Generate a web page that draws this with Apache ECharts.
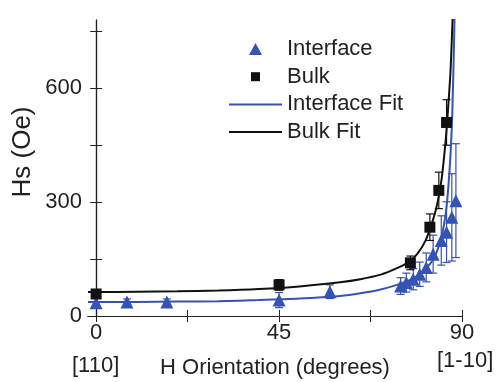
<!DOCTYPE html>
<html>
<head>
<meta charset="utf-8">
<script src="https://cdn.jsdelivr.net/npm/echarts@6/dist/echarts.min.js"></script>
<style>
  html, body { margin: 0; padding: 0; background: #fff; }
  #main { width: 497px; height: 382px; }
</style>
</head>
<body>
<div id="main"></div>
<script>
// measured points (angle in degrees, Hs in Oe)
var interfaceX = [0, 7.6, 17.4, 45, 57.5, 74.9, 76.3, 78.0, 79.6, 81.2, 82.9, 84.9, 86.2, 87.5, 88.5];
var interfaceY = [35, 37, 37, 42, 64, 79, 88, 97, 110, 128, 163, 199, 221, 260, 304];
var interfaceErr = [12, 8, 8, 20, 18, 22, 25, 28, 32, 38, 50, 65, 80, 115, 150];

var bulkX = [0, 45, 77.3, 82.1, 84.3, 86.2];
var bulkY = [58, 82, 140, 234, 331, 510];
var bulkErr = [10, 14, 18, 35, 48, 60];

// fit curves
var interfaceFitX = [-2, 0, 10, 20, 30, 40, 50, 60, 65, 70, 74, 77, 79, 81, 83, 84, 85, 86, 86.6, 87.2, 87.6, 88, 88.3];
var interfaceFitY = [37, 37, 37, 38, 39, 42, 46, 53, 60, 70, 82, 94, 105, 123, 150, 175, 210, 270, 335, 430, 530, 700, 860];
var bulkFitX = [-2, 0, 10, 20, 30, 40, 50, 60, 65, 70, 74, 77, 79, 81, 83, 84, 85, 86, 86.6, 87.2, 87.6, 88];
var bulkFitY = [63, 63, 64, 65, 67, 71, 78, 89, 97, 109, 126, 143, 164, 198, 258, 300, 362, 465, 550, 650, 760, 880];

var xLabels = [0, 45, 90];
var xTicks = [0, 22.5, 45, 67.5, 90];
var yLabels = [0, 300, 600];
var yTicks = [0, 150, 300, 450, 600, 750];

var BLUE = "#3553b5";
var BLACK = "#111111";
var FONT = "Liberation Sans";

function zip(xs, ys) {
  return xs.map(function (x, i) { return [x, ys[i]]; });
}
function errData(xs, ys, es) {
  return xs.map(function (x, i) { return [x, ys[i] - es[i], ys[i] + es[i]]; });
}
function errorBars(color) {
  return function (params, api) {
    var x = api.value(0);
    var top = api.coord([x, api.value(2)]);
    var bot = api.coord([x, api.value(1)]);
    var st = { stroke: color, lineWidth: 1.2 };
    return {
      type: "group",
      children: [
        { type: "line", shape: { x1: top[0], y1: top[1], x2: bot[0], y2: bot[1] }, style: st },
        { type: "line", shape: { x1: top[0] - 4, y1: top[1], x2: top[0] + 4, y2: top[1] }, style: st },
        { type: "line", shape: { x1: bot[0] - 4, y1: bot[1], x2: bot[0] + 4, y2: bot[1] }, style: st }
      ]
    };
  };
}

var axisLine = { show: true, lineStyle: { color: "#222", width: 1.2 } };
var labelStyle = { fontSize: 22, color: "#222", fontFamily: FONT };

var myChart = echarts.init(document.getElementById("main"));
var option = {
  animation: false,
  textStyle: { fontFamily: FONT },
  grid: { left: 88, right: 35, top: 20, bottom: 66, outerBoundsMode: "none", containLabel: false },
  legend: {
    orient: "vertical",
    left: 224,
    top: 33,
    itemWidth: 53,
    itemHeight: 12,
    itemGap: 5.7,
    textStyle: { fontSize: 22, color: "#222", fontFamily: FONT },
    data: [
      { name: "Interface", icon: "path://M6,0L12,11H0Z" },
      { name: "Bulk", icon: "path://M0,0M12,12M1.5,1.5h9v9h-9z" },
      { name: "Interface Fit", icon: "path://M0,0h53v2h-53z" },
      { name: "Bulk Fit", icon: "path://M0,0h53v2h-53z" }
    ]
  },
  xAxis: [
    {
      type: "value",
      min: -2,
      max: 90,
      position: "bottom",
      axisLine: axisLine,
      splitLine: { show: false },
      axisTick: { inside: true, length: 6, customValues: xTicks, lineStyle: { color: "#222" } },
      axisLabel: Object.assign({ customValues: xLabels, margin: 6 }, labelStyle),
      name: "H Orientation (degrees)",
      nameLocation: "middle",
      nameGap: 41,
      nameTextStyle: labelStyle
    },
    {
      type: "value",
      min: -2,
      max: 90,
      position: "top",
      axisLine: axisLine,
      splitLine: { show: false },
      axisTick: { inside: true, length: 6, customValues: xTicks, lineStyle: { color: "#222" } },
      axisLabel: { show: false }
    }
  ],
  yAxis: [
    {
      type: "value",
      min: 0,
      max: 780,
      position: "left",
      axisLine: axisLine,
      splitLine: { show: false },
      axisTick: { inside: true, length: 6, customValues: yTicks, lineStyle: { color: "#222" } },
      axisLabel: Object.assign({ customValues: yLabels, margin: 6 }, labelStyle)
    },
    {
      type: "value",
      min: 0,
      max: 780,
      position: "right",
      axisLine: axisLine,
      splitLine: { show: false },
      axisTick: { inside: true, length: 6, customValues: yTicks, lineStyle: { color: "#222" } },
      axisLabel: { show: false }
    }
  ],
  graphic: [
    {
      type: "text",
      x: 23,
      y: 152,
      rotation: Math.PI / 2,
      style: { text: "Hs (Oe)", fontSize: 26, fill: "#222", fontFamily: FONT, align: "center", verticalAlign: "middle" }
    },
    { type: "text", left: 72, top: 355, style: { text: "[110]", fontSize: 22, fill: "#222", fontFamily: FONT } },
    { type: "text", left: 437, top: 350, style: { text: "[1-10]", fontSize: 22, fill: "#222", fontFamily: FONT } }
  ],
  series: [
    {
      type: "custom",
      renderItem: errorBars(BLUE),
      data: errData(interfaceX, interfaceY, interfaceErr),
      encode: { x: 0, y: [1, 2] },
      clip: true,
      z: 1
    },
    {
      type: "custom",
      renderItem: errorBars(BLACK),
      data: errData(bulkX, bulkY, bulkErr),
      encode: { x: 0, y: [1, 2] },
      clip: true,
      z: 1
    },
    {
      name: "Interface Fit",
      type: "line",
      data: zip(interfaceFitX, interfaceFitY),
      showSymbol: false,
      symbol: "none",
      smooth: 0.25,
      lineStyle: { color: BLUE, width: 2 },
      itemStyle: { color: BLUE },
      clip: true,
      z: 2
    },
    {
      name: "Bulk Fit",
      type: "line",
      data: zip(bulkFitX, bulkFitY),
      showSymbol: false,
      symbol: "none",
      smooth: 0.25,
      lineStyle: { color: BLACK, width: 2 },
      itemStyle: { color: BLACK },
      clip: true,
      z: 2
    },
    {
      name: "Interface",
      type: "scatter",
      symbol: "triangle",
      symbolSize: 13,
      data: zip(interfaceX, interfaceY),
      itemStyle: { color: BLUE, opacity: 1 },
      z: 3
    },
    {
      name: "Bulk",
      type: "scatter",
      symbol: "rect",
      symbolSize: 11,
      data: zip(bulkX, bulkY),
      itemStyle: { color: BLACK, opacity: 1 },
      z: 3
    }
  ]
};
myChart.setOption(option);
</script>
</body>
</html>
